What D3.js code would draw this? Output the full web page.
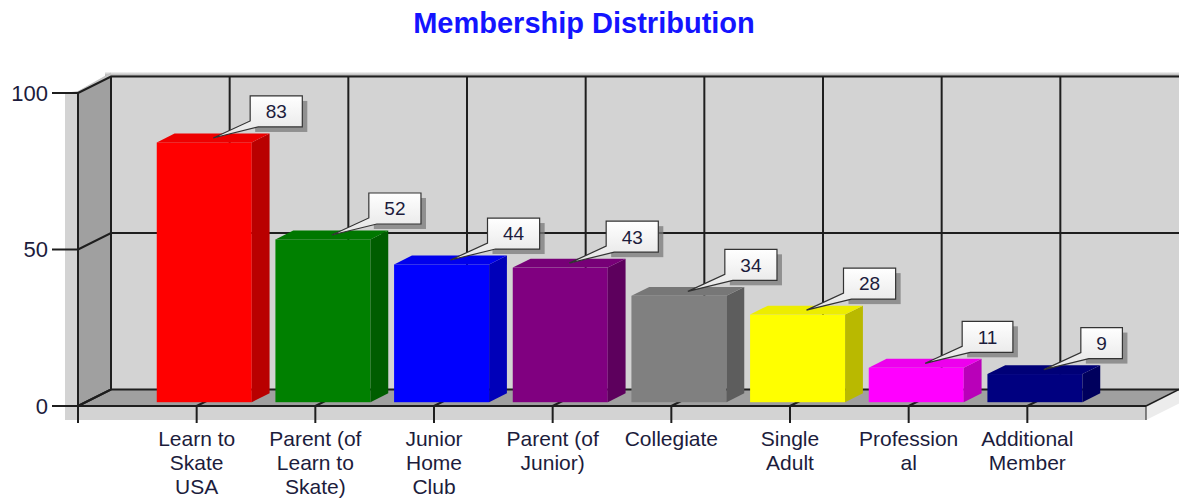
<!DOCTYPE html>
<html>
<head>
<meta charset="utf-8">
<script src="https://cdn.jsdelivr.net/npm/d3@7"></script>
<style>
  body { margin: 0; background: #fff; }
  svg { display: block; font-family: "Liberation Sans", Arial, sans-serif; }
</style>
</head>
<body>
<div id="chart"></div>
<script>
// data
const categories = ['Learn to Skate USA', 'Parent (of Learn to Skate)', 'Junior Home Club',
    'Parent (of Junior)', 'Collegiate', 'Single Adult', 'Professional', 'Additional Member'];
const labelLines = [['Learn to', 'Skate', 'USA'], ['Parent (of', 'Learn to', 'Skate)'],
    ['Junior', 'Home', 'Club'], ['Parent (of', 'Junior)'], ['Collegiate'],
    ['Single', 'Adult'], ['Profession', 'al'], ['Additional', 'Member']];
const values = [83, 52, 44, 43, 34, 28, 11, 9];
const barColors = ['#ff0000', '#008000', '#0000ff', '#800080', '#808080', '#ffff00', '#ff00ff', '#000080'];
const yTicks = [0, 50, 100];

let width = 1179;
let height = 500;
let margin = {top: 93, bottom: 94, left: 78, right: 33};

// depth of the 3d box
const depthX = 33;
const depthY = -16.5;
const barZ = [0.23, 0.77];
const barWidth = 95;

let xScale, yScale, svg;

function buildScales() {
    xScale = d3.scalePoint()
        .domain(categories)
        .range([margin.left, width - margin.right])
        .padding(1);

    yScale = d3.scaleLinear()
        .domain([0, 100])
        .range([height - margin.bottom, margin.top]);
}

// screen position of a point at front x, value v and depth z (0 = front, 1 = back)
const proj = (x, v, z) => [x + z * depthX, yScale(v) + z * depthY];
const pts = arr => arr.map(p => p.join(',')).join(' ');

function buildSVG() {
    svg = d3.select('#chart')
        .append('svg')
        .attr('width', width)
        .attr('height', height);

    let defs = svg.append('defs');
    let g = defs.append('linearGradient')
        .attr('id', 'boxFill')
        .attr('x1', 0).attr('y1', 0).attr('x2', 0).attr('y2', 1);
    g.append('stop').attr('offset', '0%').attr('stop-color', '#ffffff');
    g.append('stop').attr('offset', '100%').attr('stop-color', '#e4e4e4');

    let s = defs.append('linearGradient')
        .attr('id', 'topShade')
        .attr('x1', 0).attr('y1', 0).attr('x2', 0).attr('y2', 1);
    s.append('stop').attr('offset', '0%').attr('stop-color', '#ffffff');
    s.append('stop').attr('offset', '100%').attr('stop-color', '#9a9a9a');
}

function drawTitle() {
    svg.append('text')
        .attr('x', 584)
        .attr('y', 33)
        .attr('text-anchor', 'middle')
        .attr('font-size', 29)
        .attr('font-weight', 'bold')
        .attr('fill', '#1414ff')
        .text('Membership Distribution');
}

function drawBox() {
    let x0 = margin.left;
    let x1 = width - margin.right;
    let box = svg.append('g').classed('box', true);
    let [bx0, by100] = proj(x0, 100, 1);
    let [, by0] = proj(x0, 0, 1);
    let xEnd = x1 + depthX;

    // wall thickness
    box.append('rect')
        .attr('x', bx0 - 6).attr('y', by100 - 5)
        .attr('width', xEnd - bx0 + 6).attr('height', 5)
        .attr('fill', 'url(#topShade)');
    box.append('polygon')
        .attr('points', pts([[x0 - 13, yScale(100)], [x0, yScale(100) - 2], [bx0, by100 - 4],
            [bx0, by100], [x0, yScale(100)]]))
        .attr('fill', '#c4c4c4');
    box.append('rect')
        .attr('x', x0 - 13).attr('y', yScale(100))
        .attr('width', 13).attr('height', yScale(0) - yScale(100) + 14)
        .attr('fill', '#d3d3d3');
    box.append('rect')
        .attr('x', x0 - 13).attr('y', yScale(0))
        .attr('width', x1 - x0 + 13).attr('height', 14)
        .attr('fill', '#d3d3d3');
    box.append('polygon')
        .attr('points', pts([[x1, yScale(0)], [xEnd, by0], [xEnd, by0 + 14], [x1, yScale(0) + 14]]))
        .attr('fill', '#ececec');

    // back wall
    box.append('rect')
        .attr('x', bx0).attr('y', by100)
        .attr('width', xEnd - bx0).attr('height', by0 - by100)
        .attr('fill', '#d3d3d3');

    // left wall
    box.append('polygon')
        .attr('points', pts([proj(x0, 0, 0), proj(x0, 100, 0), proj(x0, 100, 1), proj(x0, 0, 1)]))
        .attr('fill', '#a0a0a0');

    // floor
    box.append('polygon')
        .attr('points', pts([proj(x0, 0, 0), proj(x0, 0, 1), proj(x1, 0, 1), proj(x1, 0, 0)]))
        .attr('fill', '#a0a0a0');

    let grid = box.append('g')
        .attr('stroke', '#1e1e1e')
        .attr('stroke-width', 2)
        .attr('fill', 'none');

    // horizontal grid on back wall and left wall
    yTicks.forEach(v => {
        let [ax, ay] = proj(x0, v, 0);
        let [bx, by] = proj(x0, v, 1);
        grid.append('polyline')
            .attr('points', pts([[ax, ay], [bx, by], [xEnd, by]]));
    });

    // vertical grid on back wall and floor
    let xs = [x0].concat(categories.map(c => xScale(c)));
    xs.forEach(x => {
        let [bx, by] = proj(x, 0, 1);
        let [, ty] = proj(x, 100, 1);
        grid.append('polyline')
            .attr('points', pts([[x, yScale(0)], [bx, by], [bx, ty]]));
    });

    grid.append('line')
        .attr('x1', x1).attr('y1', yScale(0))
        .attr('x2', xEnd).attr('y2', by0)
        .attr('stroke-width', 1.5);
    grid.append('line')
        .attr('x1', x1).attr('y1', yScale(0))
        .attr('x2', x1).attr('y2', yScale(0) + 14)
        .attr('stroke-width', 1);
}

function drawBars() {
    let bars = svg.append('g').classed('chart-group', true)
        .selectAll('.bar')
        .data(values.map((v, i) => ({v, i, c: categories[i], color: barColors[i]})))
        .enter()
      .append('g')
        .classed('bar', true);

    const front = d => {
        let cx = xScale(d.c) + barZ[0] * depthX;
        return [cx - barWidth / 2, cx + barWidth / 2];
    };
    const dz = barZ[1] - barZ[0];

    bars.append('rect')
        .attr('x', d => front(d)[0])
        .attr('y', d => yScale(d.v) + barZ[0] * depthY)
        .attr('width', barWidth)
        .attr('height', d => yScale(0) - yScale(d.v))
        .attr('fill', d => d.color);

    bars.append('polygon')
        .attr('points', d => {
            let [, xr] = front(d);
            let yt = yScale(d.v) + barZ[0] * depthY;
            let yb = yScale(0) + barZ[0] * depthY;
            return pts([[xr, yt], [xr + dz * depthX, yt + dz * depthY],
                [xr + dz * depthX, yb + dz * depthY], [xr, yb]]);
        })
        .attr('fill', d => d3.color(d.color).darker(0.9));

    bars.append('polygon')
        .attr('points', d => {
            let [xl, xr] = front(d);
            let yt = yScale(d.v) + barZ[0] * depthY;
            return pts([[xl, yt], [xl + dz * depthX, yt + dz * depthY],
                [xr + dz * depthX, yt + dz * depthY], [xr, yt]]);
        })
        .attr('fill', d => d3.color(d.color).darker(0.2));
}

function drawAxes() {
    let axes = svg.append('g')
        .attr('stroke', '#1e1e1e')
        .attr('stroke-width', 2);
    let x0 = margin.left;

    axes.append('line')
        .attr('x1', x0).attr('y1', yScale(100))
        .attr('x2', x0).attr('y2', yScale(0) + 17);
    axes.append('line')
        .attr('x1', x0).attr('y1', yScale(0))
        .attr('x2', width - margin.right).attr('y2', yScale(0));

    yTicks.forEach(v => {
        axes.append('line')
            .attr('x1', x0 - 26).attr('y1', yScale(v))
            .attr('x2', x0).attr('y2', yScale(v));
    });
    categories.forEach(c => {
        axes.append('line')
            .attr('x1', xScale(c)).attr('y1', yScale(0))
            .attr('x2', xScale(c)).attr('y2', yScale(0) + 17);
    });

    svg.append('g').selectAll('text')
        .data(yTicks)
        .enter()
      .append('text')
        .attr('x', x0 - 30)
        .attr('y', d => yScale(d))
        .attr('dy', '0.36em')
        .attr('text-anchor', 'end')
        .attr('font-size', 22)
        .attr('fill', '#1c1c3c')
        .text(d => d);

    let labels = svg.append('g').selectAll('text')
        .data(categories)
        .enter()
      .append('text')
        .attr('x', d => xScale(d))
        .attr('y', 446)
        .attr('text-anchor', 'middle')
        .attr('font-size', 21)
        .attr('fill', '#1c1c3c');

    labels.selectAll('tspan')
        .data((d, i) => labelLines[i])
        .enter()
      .append('tspan')
        .attr('x', function() { return d3.select(this.parentNode).attr('x'); })
        .attr('dy', (d, i) => i === 0 ? 0 : 24)
        .text(d => d);
}

function drawCallouts() {
    let g = svg.append('g').classed('callouts', true);
    values.forEach((v, i) => {
        let [tx, ty] = proj(xScale(categories[i]), v, 0.5);
        let label = g.append('text')
            .attr('font-size', 19)
            .attr('fill', '#1c1c3c')
            .attr('text-anchor', 'middle')
            .text(v);
        let tw = label.node().getComputedTextLength();
        let bw = tw + 31;
        let bh = 31;
        let bx = tx + 37;
        let by = ty - 11 - bh;

        g.insert('rect', 'text')
            .attr('x', bx + 5).attr('y', by + 5)
            .attr('width', bw).attr('height', bh)
            .attr('fill', '#7a7a7a')
            .attr('opacity', 0.75);
        g.insert('path', 'text')
            .attr('d', `M${bx},${by} H${bx + bw} V${by + bh} H${bx + 8} L${tx},${ty} L${bx},${by + bh - 6} Z`)
            .attr('fill', 'url(#boxFill)')
            .attr('stroke', '#333')
            .attr('stroke-width', 1.2);
        label
            .attr('x', bx + bw / 2)
            .attr('y', by + bh / 2)
            .attr('dy', '0.36em')
            .raise();
    });
}

buildScales();
buildSVG();
drawTitle();
drawBox();
drawBars();
drawAxes();
drawCallouts();
</script>
</body>
</html>
